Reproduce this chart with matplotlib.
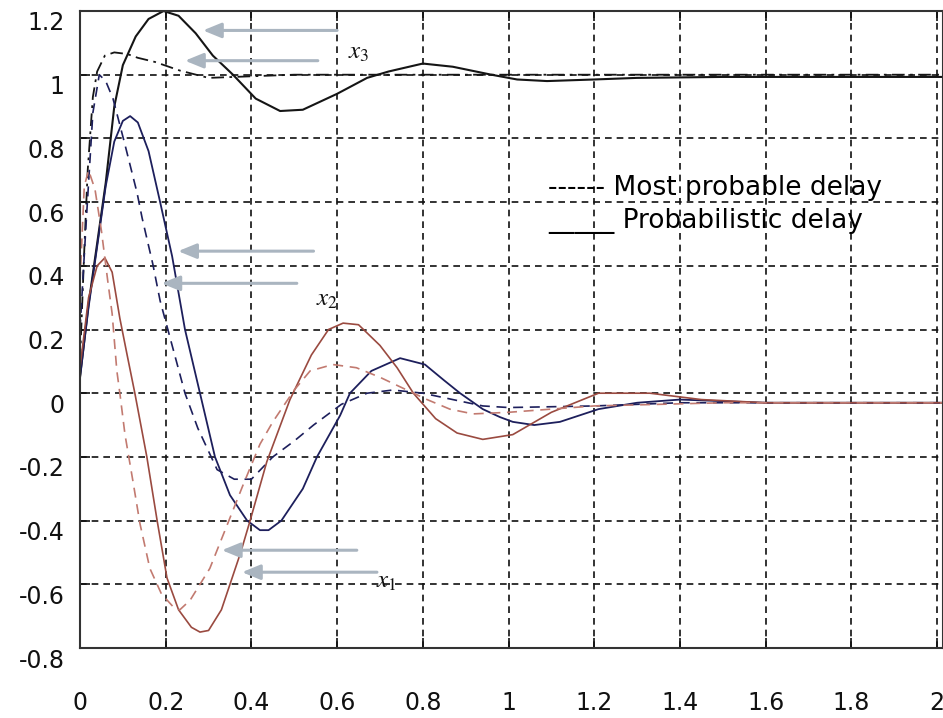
import numpy as np
import matplotlib
matplotlib.use("Agg")
import matplotlib.pyplot as plt
from matplotlib.transforms import ScaledTranslation

plt.rcParams['mathtext.fontset'] = 'stix'

# x3 - probabilistic delay (solid) and most probable delay (dash-dot)
t_x3_prob = [0, 0.02, 0.04, 0.06, 0.08, 0.1, 0.13, 0.16, 0.195, 0.23, 0.27, 0.31, 0.357,
             0.41, 0.467, 0.52, 0.6, 0.67, 0.72, 0.8, 0.87, 0.96, 1.02, 1.09, 1.2, 1.3, 1.5, 2.02]
y_x3_prob = [0.05, 0.28, 0.47, 0.66, 0.9, 1.03, 1.12, 1.175, 1.2, 1.185, 1.13, 1.06, 1.0,
             0.925, 0.886, 0.89, 0.94, 0.99, 1.01, 1.035, 1.025, 1.0, 0.985, 0.98, 0.985, 0.99, 0.993, 0.993]
t_x3_most = [0, 0.01, 0.018, 0.03, 0.04, 0.058, 0.08, 0.11, 0.135, 0.175, 0.233, 0.3, 0.4,
             0.5, 0.7, 2.02]
y_x3_most = [0.1, 0.45, 0.7, 0.93, 1.01, 1.06, 1.07, 1.065, 1.053, 1.04, 1.013, 0.99, 0.995,
             1.0, 1.0, 1.0]

# x2
t_x2_prob = [0, 0.02, 0.04, 0.06, 0.08, 0.1, 0.117, 0.135, 0.16, 0.187, 0.215, 0.245, 0.28,
             0.315, 0.35, 0.39, 0.42, 0.44, 0.47, 0.52, 0.553, 0.607, 0.63, 0.68, 0.747,
             0.805, 0.85, 0.887, 0.94, 0.98, 1.01, 1.06, 1.12, 1.21, 1.3, 1.4, 1.6, 2.02]
y_x2_prob = [0.05, 0.27, 0.46, 0.65, 0.79, 0.855, 0.87, 0.85, 0.76, 0.6, 0.43, 0.2, 0.0,
             -0.2, -0.32, -0.4, -0.43, -0.43, -0.4, -0.3, -0.2, -0.07, 0.0, 0.07, 0.11,
             0.09, 0.04, 0.0, -0.05, -0.075, -0.09, -0.1, -0.09, -0.05, -0.03, -0.02, -0.03, -0.03]
t_x2_most = [0, 0.015, 0.03, 0.045, 0.06, 0.077, 0.105, 0.133, 0.145, 0.17, 0.187, 0.215,
             0.245, 0.275, 0.32, 0.36, 0.4, 0.45, 0.5, 0.545, 0.61, 0.67, 0.73, 0.8, 0.87,
             0.94, 1.0, 1.2, 1.4, 2.02]
y_x2_most = [0.2, 0.55, 0.88, 1.0, 0.98, 0.925, 0.78, 0.63, 0.55, 0.405, 0.29, 0.15,
             0.0, -0.11, -0.24, -0.27, -0.27, -0.2, -0.15, -0.1, -0.035, 0.0, 0.01, 0.0, -0.02,
             -0.04, -0.045, -0.04, -0.03, -0.03]

# x1
t_x1_prob = [0, 0.02, 0.04, 0.058, 0.075, 0.093, 0.11, 0.128, 0.156, 0.18, 0.203, 0.23,
             0.26, 0.28, 0.3, 0.33, 0.35, 0.375, 0.397, 0.436, 0.49, 0.54, 0.58, 0.614,
             0.65, 0.7, 0.74, 0.778, 0.83, 0.88, 0.94, 1.01, 1.1, 1.21, 1.33, 1.45, 1.6, 2.02]
y_x1_prob = [0.08, 0.3, 0.4, 0.425, 0.38, 0.235, 0.12, 0.0, -0.2, -0.4, -0.58, -0.68,
             -0.735, -0.75, -0.745, -0.68, -0.6, -0.5, -0.4, -0.215, -0.02, 0.12, 0.2, 0.22,
             0.215, 0.15, 0.08, 0.0, -0.08, -0.125, -0.145, -0.13, -0.06, 0.0, 0.0, -0.02, -0.03, -0.03]
t_x1_most = [0, 0.01, 0.02, 0.035, 0.05, 0.065, 0.075, 0.086, 0.093, 0.105, 0.124, 0.14,
             0.163, 0.19, 0.217, 0.233, 0.257, 0.303, 0.343, 0.38, 0.42, 0.45, 0.5, 0.537,
             0.59, 0.645, 0.7, 0.747, 0.81, 0.863, 0.917, 1.0, 1.2, 1.5, 2.02]
y_x1_most = [0.35, 0.65, 0.7, 0.64, 0.51, 0.35, 0.25, 0.07, 0.0, -0.13, -0.28, -0.41,
             -0.55, -0.63, -0.67, -0.68, -0.65, -0.55, -0.415, -0.29, -0.16, -0.09, 0.01, 0.07,
             0.09, 0.08, 0.05, 0.02, -0.02, -0.05, -0.065, -0.06, -0.04, -0.03, -0.03]

# arrows (tail x, head x, y) and curve labels
arrows = [(0.60, 0.287, 1.139), (0.555, 0.245, 1.044), (0.545, 0.229, 0.446),
          (0.506, 0.19, 0.345), (0.646, 0.331, -0.493), (0.693, 0.378, -0.562)]
labels = [("$x_3$", 0.625, 1.07), ("$x_2$", 0.55, 0.295), ("$x_1$", 0.69, -0.59)]

xticks = [0, 0.2, 0.4, 0.6, 0.8, 1, 1.2, 1.4, 1.6, 1.8, 2]
xtick_labels = ['0', '0.2', '0.4', '0.6', '0.8', '1', '1.2', '1.4', '1.6', '1.8', '2']
yticks = [-0.8, -0.6, -0.4, -0.2, 0, 0.2, 0.4, 0.6, 0.8, 1, 1.2]
ytick_labels = ['-0.8', '-0.6', '-0.4', '-0.2', '0', '0.2', '0.4', '0.6', '0.8', '1', '1.2']

black = '#151515'
navy = '#1d1f5c'
red = '#9a4a40'
red_light = '#c27a70'

fig = plt.figure(figsize=(9.43, 7.18), dpi=100)
ax = fig.add_axes([80 / 943, 70 / 718, 863 / 943, 637 / 718])

ax.plot(t_x3_prob, y_x3_prob, color=black, lw=1.5)
ax.plot(t_x3_most, y_x3_most, color=black, lw=1.3, dashes=(7, 3, 1.5, 3))
ax.plot(t_x2_prob, y_x2_prob, color=navy, lw=1.3)
ax.plot(t_x2_most, y_x2_most, color=navy, lw=1.2, dashes=(6, 4))
ax.plot(t_x1_prob, y_x1_prob, color=red, lw=1.2)
ax.plot(t_x1_most, y_x1_most, color=red_light, lw=1.2, dashes=(6, 4))

for tail, head, yy in arrows:
    ax.annotate('', xy=(head, yy), xytext=(tail, yy),
                arrowprops=dict(arrowstyle='-|>,head_length=1.1,head_width=0.45',
                                color='#aab5c0', lw=2.2, shrinkA=0, shrinkB=0))

for txt, xx, yy in labels:
    ax.text(xx, yy, txt, fontsize=18, color='#111111', ha='left', va='center')

ax.text(1.092, 0.644, '------ Most probable delay', fontsize=19, ha='left', va='center',
        family='DejaVu Sans')
ax.text(1.092, 0.54, '_____ Probabilistic delay', fontsize=19, ha='left', va='center',
        family='DejaVu Sans')

ax.set_xlim(0, 863 / 428.5)
ax.set_ylim(-0.8, 1.2)
ax.set_xticks(xticks)
ax.set_xticklabels(xtick_labels)
ax.set_yticks(yticks)
ax.set_yticklabels(ytick_labels)
ax.tick_params(axis='both', direction='in', length=7, width=1.2, labelsize=17,
               top=True, right=False, colors='#111111')
ax.tick_params(axis='x', pad=31)
ax.tick_params(axis='y', pad=11)

offset = ScaledTranslation(0, -0.10, fig.dpi_scale_trans)
for lab in ax.get_yticklabels():
    lab.set_transform(lab.get_transform() + offset)

ax.grid(True, color='#111111', lw=1.2, linestyle=(0, (4, 3)))
for s in ax.spines.values():
    s.set_color('#333333')
    s.set_linewidth(1.5)

fig.savefig('out.png', dpi=100)
